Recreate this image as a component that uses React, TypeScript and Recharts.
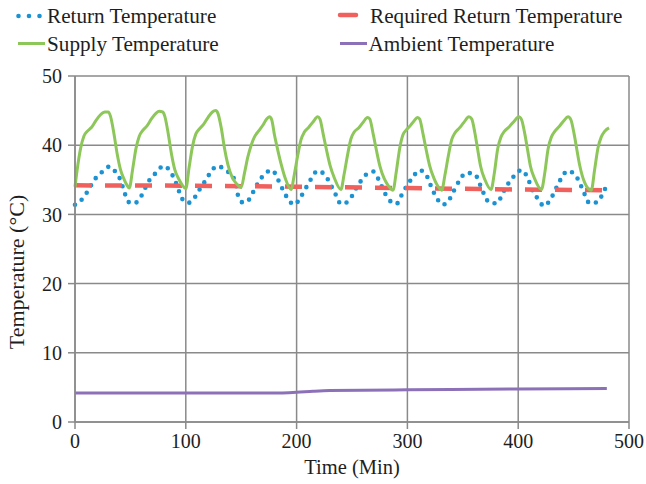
import React from "react";
import { LineChart, Line, XAxis, YAxis, CartesianGrid } from "recharts";

// Time (min), temperature (°C)
const returnPoints: [number, number][] = [
  [0, 31.4], [8, 32.5], [13, 33.8], [18, 35.1], [25, 36.2], [31, 36.9], [38, 35.8], [41, 35.0],
  [45, 33.0], [50, 31.6], [55, 31.7], [58, 32.2], [67, 34.9], [73, 36.0], [80, 37.0], [86, 36.2],
  [91, 34.6], [94, 33.3], [99, 31.8], [103, 31.7], [106, 32.0], [112, 33.5], [117, 34.7], [123, 36.2],
  [128, 37.0], [136, 36.4], [144, 35.0], [148, 32.3], [152, 31.7], [155, 31.8], [161, 33.3], [165, 34.5],
  [171, 35.8], [178, 36.4], [183, 35.1], [187.5, 33.6], [192, 32.3], [198, 31.4], [204, 32.6], [213, 35.1],
  [219, 36.3], [226.5, 35.5], [231, 34.2], [235.5, 32.8], [240, 31.5], [247.5, 32.0], [252, 33.3], [257, 34.6],
  [263, 35.8], [269, 36.2], [275, 34.7], [279, 33.3], [282.5, 32.3], [290, 31.5], [294.5, 32.7], [299, 34.0],
  [305, 35.4], [311, 36.4], [318, 35.4], [321.5, 34.0], [326, 32.5], [332, 31.4], [338, 32.2], [342.5, 33.6],
  [347, 34.9], [353, 36.0], [361, 35.8], [365, 34.5], [369, 33.0], [374, 31.7], [381, 31.6], [385.5, 32.9],
  [390, 34.2], [396, 35.5], [403, 36.4], [409, 35.1], [412.5, 33.6], [417.5, 32.3], [423.5, 31.2], [429.5, 32.3],
  [438.5, 35.1], [444.5, 36.3], [451.5, 35.7], [456.5, 34.2], [460, 32.9], [464.5, 31.6], [472, 31.8], [476.5, 33.1],
  [481, 34.5],
];

const requiredPoints: [number, number][] = [
  [0, 34.2], [100, 34.15], [200, 34.0], [300, 33.8], [400, 33.6], [480, 33.5],
];

const supplyPoints: [number, number][] = [
  [0, 34.0], [2, 36.5], [5, 39.5], [8, 41.3], [11, 42.0], [15, 42.6], [19, 43.6], [23, 44.4], [27, 44.8],
  [30, 44.8], [32, 44.2], [35, 41.8], [38, 38.8], [41, 36.5], [44.5, 35.0], [47, 34.2], [49, 33.8],
  [52, 36.5], [55, 39.5], [58, 41.3], [61, 42.1], [65, 42.8], [69, 43.8], [73, 44.6], [76, 44.9],
  [79, 44.8], [81, 44.2], [84, 41.8], [87, 38.8], [90, 36.5], [94, 35.0], [97, 34.2], [100, 33.7],
  [103, 36.8], [106, 39.8], [109, 41.6], [112, 42.3], [116, 43.0], [120, 44.0], [124, 44.8], [127, 45.0],
  [129, 44.6], [132, 42.5], [135, 39.5], [138, 37.2], [142, 35.3], [146, 34.4], [150, 33.9],
  [153, 36.0], [156, 38.3], [159, 40.0], [162, 41.2], [166, 42.1], [170, 43.0], [173, 43.8], [175.5, 44.1],
  [177.5, 43.7], [180, 41.5], [183, 39.3], [186, 37.3], [190, 35.1], [195, 33.6],
  [198, 35.8], [201, 38.5], [204, 40.8], [207, 41.9], [211, 42.6], [215, 43.4], [219, 44.1],
  [221, 43.8], [224, 41.6], [227, 39.3], [230, 37.2], [234, 35.3], [240, 33.6],
  [243, 35.9], [246, 38.6], [249, 40.9], [252, 41.9], [256, 42.5], [260, 43.3], [264, 44.0],
  [266, 43.8], [269, 41.7], [272, 39.3], [275, 37.1], [279, 35.2], [283, 34.1], [287, 33.5],
  [290, 36.2], [293, 39.5], [296, 41.5], [299, 42.2], [303, 42.9], [306, 43.5], [309, 44.0],
  [311, 43.8], [314, 41.7], [317, 39.3], [320, 37.1], [324, 35.2], [327, 34.2], [331, 33.5],
  [334, 35.8], [337, 38.5], [340, 40.8], [343, 41.8], [347, 42.5], [351, 43.3], [355.5, 44.1],
  [358, 43.8], [361, 41.7], [363.5, 39.3], [366, 37.0], [370, 35.0], [375.5, 33.6],
  [378.5, 36.0], [381.5, 39.5], [384.5, 41.2], [387.5, 42.0], [391.5, 42.6], [396, 43.4], [400.5, 44.1],
  [403, 43.7], [406, 41.6], [408.5, 39.3], [411, 37.0], [415, 35.1], [421, 33.6],
  [424, 36.0], [427, 39.5], [430, 41.2], [433, 42.0], [437, 42.7], [441, 43.5], [445, 44.1],
  [447.5, 43.7], [450.5, 41.6], [453, 39.3], [455.5, 37.1], [460, 34.6], [466, 33.5],
  [469, 36.5], [472, 39.6], [475, 41.2], [478, 42.0], [482, 42.5],
];

const ambientPoints: [number, number][] = [
  [0, 4.2], [100, 4.2], [185, 4.2], [200, 4.3], [215, 4.45], [230, 4.55], [300, 4.65], [400, 4.78], [480, 4.85],
];

const xTicks = [0, 100, 200, 300, 400, 500];
const yTicks = [0, 10, 20, 30, 40, 50];

const seriesNames = {
  ret: "Return Temperature",
  req: "Required Return Temperature",
  sup: "Supply Temperature",
  amb: "Ambient Temperature",
};

const colors = {
  ret: "#1B92D2",
  req: "#F0605D",
  sup: "#8DC75A",
  amb: "#8D71B8",
  grid: "#8a8a8a",
  text: "#1e1e1e",
};

const toRows = (pts: [number, number][]) => pts.map(([t, v]) => ({ t, v }));

const FONT = "'Liberation Serif', 'Times New Roman', serif";

const tickStyle = { fontFamily: FONT, fontSize: 20, fill: colors.text };

export default function App() {
  return (
    <div style={{ position: "absolute", left: 0, top: 0, width: 646, height: 484, background: "#fff" }}>
      <LineChart width={646} height={484} margin={{ top: 76, right: 17, bottom: 0, left: 0 }}>
        <CartesianGrid stroke={colors.grid} strokeWidth={1.5} horizontal vertical />
        <XAxis
          type="number"
          dataKey="t"
          domain={[0, 500]}
          ticks={xTicks}
          interval={0}
          height={62}
          tickSize={7}
          tickMargin={5}
          stroke={colors.grid}
          strokeWidth={1.5}
          tick={tickStyle}
          label={{
            content: () => (
              <text x={352} y={474} textAnchor="middle" style={{ fontFamily: FONT, fontSize: 20.5, fill: colors.text }}>
                Time (Min)
              </text>
            ),
          }}
        />
        <YAxis
          type="number"
          domain={[0, 50]}
          ticks={yTicks}
          interval={0}
          width={75}
          tickSize={7}
          tickMargin={6}
          stroke={colors.grid}
          strokeWidth={1.5}
          tick={tickStyle}
          label={{
            content: () => (
              <text
                x={16}
                y={272}
                transform="rotate(-90 16 272)"
                textAnchor="middle"
                dominantBaseline="central"
                style={{ fontFamily: FONT, fontSize: 22, fill: colors.text }}
              >
                Temperature (°C)
              </text>
            ),
          }}
        />
        <Line
          data={toRows(returnPoints)}
          dataKey="v"
          type="monotone"
          stroke={colors.ret}
          strokeWidth={4.6}
          strokeDasharray="0 8.5"
          strokeLinecap="round"
          dot={false}
          isAnimationActive={false}
          name={seriesNames.ret}
        />
        <Line
          data={toRows(requiredPoints)}
          dataKey="v"
          type="linear"
          stroke={colors.req}
          strokeWidth={4.5}
          strokeDasharray="17 13"
          dot={false}
          isAnimationActive={false}
          name={seriesNames.req}
        />
        <Line
          data={toRows(supplyPoints)}
          dataKey="v"
          type="monotone"
          stroke={colors.sup}
          strokeWidth={3}
          dot={false}
          isAnimationActive={false}
          name={seriesNames.sup}
        />
        <Line
          data={toRows(ambientPoints)}
          dataKey="v"
          type="monotone"
          stroke={colors.amb}
          strokeWidth={3}
          dot={false}
          isAnimationActive={false}
          name={seriesNames.amb}
        />
      </LineChart>
      <svg
        width={646}
        height={62}
        style={{ position: "absolute", left: 0, top: 0, pointerEvents: "none" }}
      >
        <g style={{ fontFamily: FONT, fontSize: 21.2, fill: colors.text }}>
          <circle cx={18.5} cy={16} r={2.3} fill={colors.ret} />
          <circle cx={29} cy={16} r={2.3} fill={colors.ret} />
          <circle cx={39.5} cy={16} r={2.3} fill={colors.ret} />
          <text x={47} y={23}>{seriesNames.ret}</text>
          <line x1={18} x2={45} y1={43.5} y2={43.5} stroke={colors.sup} strokeWidth={3} />
          <text x={47} y={51}>{seriesNames.sup}</text>
          <line x1={340} x2={356} y1={15} y2={15} stroke={colors.req} strokeWidth={4.5} strokeLinecap="round" />
          <text x={370} y={23}>{seriesNames.req}</text>
          <line x1={340} x2={367} y1={43.5} y2={43.5} stroke={colors.amb} strokeWidth={3} />
          <text x={368.5} y={51}>{seriesNames.amb}</text>
        </g>
      </svg>
    </div>
  );
}
